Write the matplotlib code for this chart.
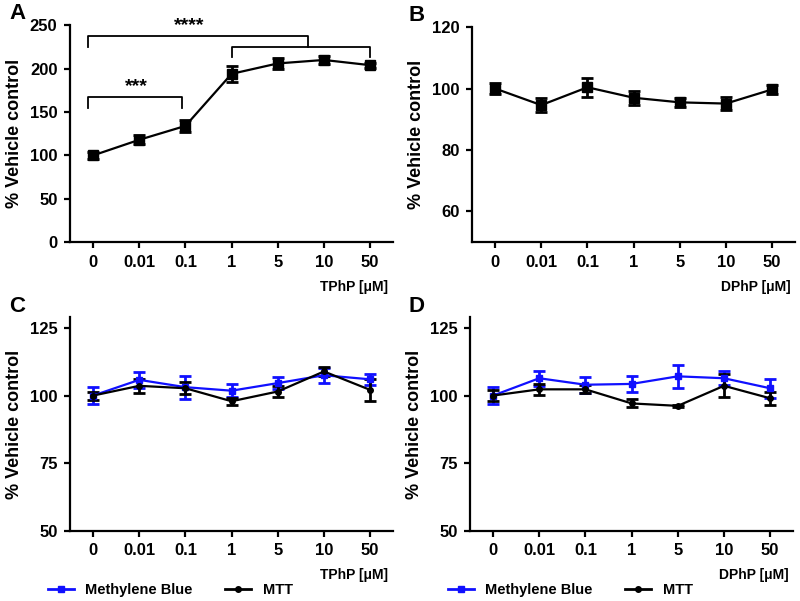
import matplotlib
matplotlib.use("Agg")
import matplotlib.pyplot as plt
import numpy as np

plt.rcParams['font.family'] = ['Liberation Sans', 'DejaVu Sans']
plt.rcParams['font.weight'] = 'bold'

doses = ["0", "0.01", "0.1", "1", "5", "10", "50"]

# panel A - TPhP
a_mean = [100, 118, 134, 194, 206, 210, 204]
a_err = [4, 5, 7, 9, 6, 5, 3]
# panel B - DPhP
b_mean = [100, 94.6, 100.4, 97, 95.5, 95.1, 99.7]
b_err = [1.8, 2.2, 3, 2.3, 1.5, 2, 1.5]
# panel C - TPhP, two assays
c_mb = [100, 105.8, 103.1, 101.8, 104.6, 107.5, 106]
c_mb_err = [3.2, 3, 4.2, 2.5, 2.2, 2.7, 2]
c_mtt = [100, 103.6, 102.7, 97.9, 101.5, 108.9, 102.1]
c_mtt_err = [1.5, 2.7, 2.2, 1.3, 2.2, 1.5, 4.1]
# panel D - DPhP, two assays
d_mb = [100, 106.4, 104, 104.3, 107.1, 106.4, 102.7]
d_mb_err = [3, 2.7, 3, 3, 4.2, 2.5, 3.5]
d_mtt = [100, 102.3, 102.3, 97.1, 96.2, 103.6, 99]
d_mtt_err = [2, 2, 1.5, 1.5, 0.5, 4.3, 2.5]

BLUE = '#1010ff'
x = np.arange(len(doses))

fig = plt.figure(figsize=(8, 6.01), dpi=100)
axA = fig.add_axes([0.0875, 0.597, 0.404, 0.361])
axB = fig.add_axes([0.59, 0.597, 0.404, 0.358])
axC = fig.add_axes([0.0875, 0.1165, 0.404, 0.356])
axD = fig.add_axes([0.5875, 0.1165, 0.404, 0.356])


def style(ax, xlab):
    for s in ['top', 'right']:
        ax.spines[s].set_visible(False)
    for s in ['left', 'bottom']:
        ax.spines[s].set_linewidth(1.6)
    ax.set_xlim(-0.5, 6.5)
    ax.set_xticks(x)
    ax.set_xticklabels(doses)
    ax.tick_params(width=1.6, length=4, labelsize=12, pad=5)
    for lab in ax.get_xticklabels() + ax.get_yticklabels():
        lab.set_fontweight('bold')
    ax.set_ylabel('% Vehicle control', fontsize=13, fontweight='bold', labelpad=5)
    ax.text(0.985, -0.175, xlab, transform=ax.transAxes, ha='right', va='top',
            fontsize=10, fontweight='bold')


def errline(ax, y, e, color, marker, ms):
    ax.errorbar(x, y, yerr=e, color=color, marker=marker, ms=ms, lw=1.6,
                elinewidth=2, capsize=4.5, capthick=2, clip_on=False, zorder=3)


# A
errline(axA, a_mean, a_err, 'black', 's', 7)
axA.set_ylim(0, 250)
axA.set_yticks([0, 50, 100, 150, 200, 250])
style(axA, 'TPhP [\u03bcM]')
kw = dict(color='black', lw=1.3, clip_on=False)
axA.plot([-0.12, -0.12, 4.66, 4.66], [225, 238, 238, 225], **kw)
axA.plot([3, 3, 6, 6], [213, 225, 225, 213], **kw)
axA.plot([-0.1, -0.1, 1.93, 1.93], [155, 167, 167, 155], **kw)
axA.text(2.08, 240, '****', ha='center', va='bottom', fontsize=14, fontweight='bold')
axA.text(0.93, 170, '***', ha='center', va='bottom', fontsize=14, fontweight='bold')

# B
errline(axB, b_mean, b_err, 'black', 's', 7)
axB.set_ylim(50, 120)
axB.set_yticks([60, 80, 100, 120])
style(axB, 'DPhP [\u03bcM]')

# C
errline(axC, c_mb, c_mb_err, BLUE, 's', 4)
errline(axC, c_mtt, c_mtt_err, 'black', 'o', 4)
axC.set_ylim(50, 129)
axC.set_yticks([50, 75, 100, 125])
style(axC, 'TPhP [\u03bcM]')

# D
errline(axD, d_mb, d_mb_err, BLUE, 's', 4)
errline(axD, d_mtt, d_mtt_err, 'black', 'o', 4)
axD.set_ylim(50, 129)
axD.set_yticks([50, 75, 100, 125])
style(axD, 'DPhP [\u03bcM]')

for ax in [axC, axD]:
    h1, = ax.plot([], [], color=BLUE, marker='s', ms=4, lw=2)
    h2, = ax.plot([], [], color='black', marker='o', ms=4, lw=2)
    ax.legend([h1, h2], ['Methylene Blue', 'MTT'], ncol=2, frameon=False,
              loc='upper left', bbox_to_anchor=(-0.11, -0.18),
              handlelength=1.8, columnspacing=2.2, handletextpad=0.8,
              prop={'weight': 'bold', 'size': 10.5})

for lab, (px, py) in zip('ABCD', [(0.012, 0.978), (0.51, 0.975), (0.012, 0.49), (0.51, 0.49)]):
    fig.text(px, py, lab, fontsize=16, fontweight='bold', ha='left', va='center')

fig.savefig('out.png', dpi=100)
